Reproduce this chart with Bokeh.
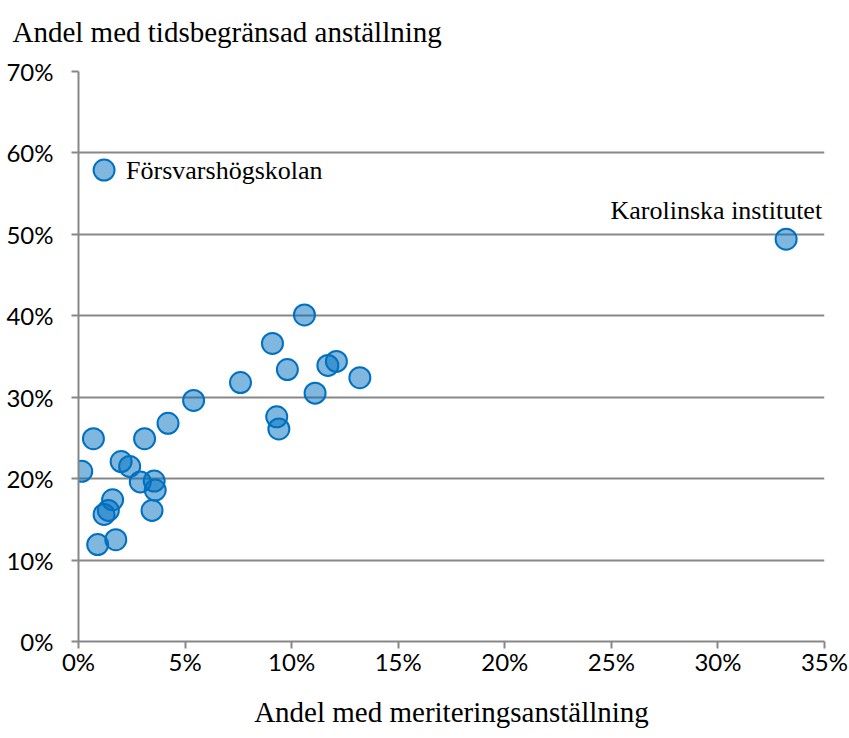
from bokeh.plotting import figure
from bokeh.models import (ColumnDataSource, FixedTicker, PrintfTickFormatter,
                          Range1d, Label)
from bokeh.embed import file_html
from bokeh.resources import INLINE

# Data (percent)
names = ["Försvarshögskolan", "Karolinska institutet"] + [""] * 26
x_merit = [1.2, 33.2, 10.6, 9.1, 9.8, 11.7, 12.1, 13.2, 11.1, 7.6, 5.4, 4.2,
           9.3, 9.4, 0.7, 3.1, 0.15, 2.0, 2.4, 2.9, 3.55, 3.6, 1.6, 1.4, 1.2,
           3.45, 0.9, 1.75]
y_temp = [57.9, 49.4, 40.1, 36.6, 33.4, 33.9, 34.4, 32.4, 30.5, 31.8, 29.6,
          26.8, 27.6, 26.1, 24.9, 24.9, 20.9, 22.1, 21.5, 19.6, 19.7, 18.6,
          17.4, 16.1, 15.6, 16.1, 11.9, 12.5]
x_ticks = [0, 5, 10, 15, 20, 25, 30, 35]
y_ticks = [0, 10, 20, 30, 40, 50, 60, 70]
x_title = "Andel med meriteringsanställning"
y_title = "Andel med tidsbegränsad anställning"

W, H = 849, 738
p = figure(width=W, height=H, output_backend="svg", toolbar_location=None,
           x_range=Range1d(0, 35), y_range=Range1d(0, 70),
           min_border_left=78, min_border_right=W - 824,
           min_border_top=71, min_border_bottom=H - 641)
p.outline_line_color = None
p.background_fill_color = "white"
p.border_fill_color = "white"

GRAY = "#878787"
TICK_FONT = "Lato"

# Title (y-axis title at top-left); an empty second line lifts it up
p.title.text = y_title + "\n"
p.title.text_font = "Liberation Serif"
p.title.text_font_size = "29px"
p.title.text_font_style = "normal"
p.title.text_color = "black"
p.title.align = "left"
p.title.vertical_align = "bottom"
p.title.offset = -66
p.title.standoff = -16

# Axes
for ax in (p.xaxis[0], p.yaxis[0]):
    ax.axis_line_color = GRAY
    ax.axis_line_width = 2
    ax.major_tick_line_color = GRAY
    ax.major_tick_line_width = 2
    ax.major_tick_out = 7
    ax.major_tick_in = 0
    ax.minor_tick_line_color = None
    ax.major_label_text_font = TICK_FONT
    ax.major_label_text_font_size = "24px"
    ax.major_label_text_color = "black"
    ax.formatter = PrintfTickFormatter(format="%d%%")

p.xaxis.ticker = FixedTicker(ticks=x_ticks)
p.yaxis.ticker = FixedTicker(ticks=y_ticks)
p.xaxis.major_label_standoff = -2
p.yaxis.major_label_standoff = 18

p.xaxis.axis_label = x_title
p.xaxis.axis_label_text_font = "Liberation Serif"
p.xaxis.axis_label_text_font_size = "29px"
p.xaxis.axis_label_text_font_style = "normal"
p.xaxis.axis_label_text_color = "black"
p.xaxis.axis_label_standoff = 17

p.xgrid.grid_line_color = None
p.ygrid.grid_line_color = GRAY
p.ygrid.grid_line_width = 2
p.ygrid.ticker = FixedTicker(ticks=y_ticks)

src = ColumnDataSource(dict(x=x_merit, y=y_temp, name=names))
p.scatter("x", "y", source=src, size=21, fill_color="#0070C0",
          fill_alpha=0.5, line_color="#0070C0", line_width=2)

# Labels for named points
i_f = names.index("Försvarshögskolan")
i_k = names.index("Karolinska institutet")
p.add_layout(Label(x=x_merit[i_f], y=y_temp[i_f], text=names[i_f],
                   x_offset=22, y_offset=0, text_baseline="middle",
                   text_align="left", text_font="Liberation Serif",
                   text_font_size="26px", text_color="black"))
p.add_layout(Label(x=x_merit[i_k], y=y_temp[i_k], text=names[i_k],
                   x_offset=36, y_offset=29, text_baseline="middle",
                   text_align="right", text_font="Liberation Serif",
                   text_font_size="26px", text_color="black"))

open("out.html", "w").write(file_html(p, INLINE))
